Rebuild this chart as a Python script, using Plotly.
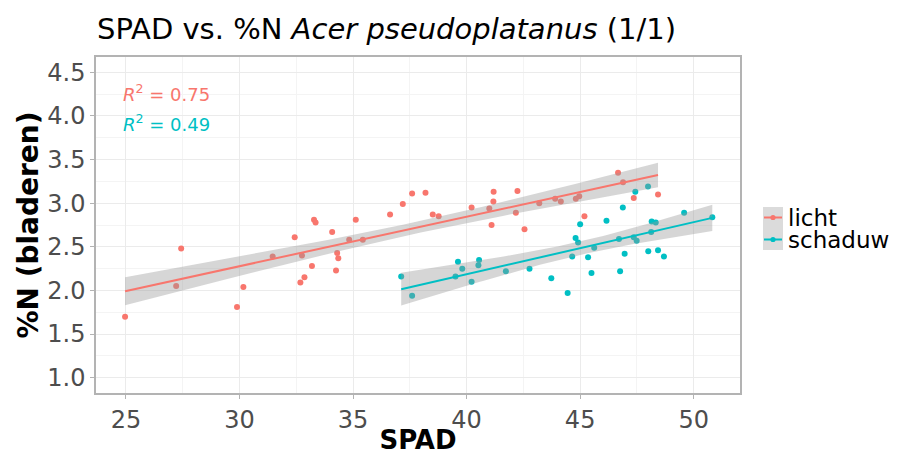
import numpy as np
import plotly.graph_objects as go

# ---- data ----
licht_spad = [24.96, 27.43, 27.21, 29.89, 30.17, 31.46, 32.43, 32.75, 32.68, 32.86,
              33.19, 33.28, 33.35, 34.08, 34.30, 34.35, 34.25, 34.83, 35.43, 35.12,
              36.63, 37.19, 37.60, 38.19, 38.51, 38.77, 40.22, 41.00, 41.19, 41.18,
              41.10, 42.24, 42.17, 42.55, 43.20, 43.90, 44.15, 44.81, 44.96, 45.19,
              46.67, 46.89, 47.36, 48.43]
licht_n = [1.70, 2.48, 2.05, 1.81, 2.04, 2.39, 2.61, 2.40, 2.09, 2.15,
           2.28, 2.81, 2.78, 2.67, 2.43, 2.37, 2.23, 2.58, 2.58, 2.81,
           2.87, 2.99, 3.11, 3.12, 2.87, 2.85, 2.95, 2.94, 3.13, 3.02,
           2.75, 3.14, 2.89, 2.70, 3.00, 3.05, 3.02, 3.05, 3.08, 2.85,
           3.35, 3.24, 3.06, 3.10]

schaduw_spad = [37.12, 37.60, 39.62, 39.81, 39.51, 40.55, 40.52, 40.22, 41.73, 42.77,
                43.73, 44.45, 44.65, 44.80, 44.91, 45.00, 45.35, 45.50, 45.62, 46.16,
                46.71, 46.76, 46.88, 46.96, 47.36, 47.49, 47.43, 47.99, 48.00, 48.13,
                48.15, 48.33, 48.43, 48.69, 49.58, 50.82]
schaduw_n = [2.16, 1.94, 2.33, 2.25, 2.16, 2.35, 2.29, 2.10, 2.22, 2.25,
             2.14, 1.97, 2.39, 2.60, 2.55, 2.76, 2.38, 2.20, 2.49, 2.80,
             2.59, 2.22, 2.95, 2.42, 2.61, 2.57, 3.13, 3.19, 2.45, 2.67,
             2.79, 2.78, 2.46, 2.39, 2.89, 2.84]

groups = ["licht", "schaduw"]
r2_labels = ["0.75", "0.49"]
colors = ["#F8766D", "#00BFC4"]

FONT = "DejaVu Sans"
W, H = 899, 455
ML, MR, MT, MB = 96, 159, 57, 62
PW, PH = W - ML - MR, H - MT - MB


def px_to_paper(px, py):
    return (px - ML) / PW, (H - MB - py) / PH


def lm_fit(x, y, n_grid=80):
    x = np.asarray(x, float)
    y = np.asarray(y, float)
    n = len(x)
    b, a = np.polyfit(x, y, 1)
    resid = y - (a + b * x)
    s = np.sqrt(np.sum(resid ** 2) / (n - 2))
    xbar = x.mean()
    sxx = np.sum((x - xbar) ** 2)
    df = n - 2
    t = 1.96 + 2.4 / df + 3.0 / df ** 2
    xg = np.linspace(x.min(), x.max(), n_grid)
    yg = a + b * xg
    se = s * np.sqrt(1.0 / n + (xg - xbar) ** 2 / sxx)
    return xg, yg, yg - t * se, yg + t * se


fig = go.Figure()
data = [(licht_spad, licht_n), (schaduw_spad, schaduw_n)]

for (xs, ys), name, col in zip(data, groups, colors):
    fig.add_trace(go.Scatter(x=xs, y=ys, mode="markers", name=name,
                             marker=dict(color=col, size=6),
                             showlegend=False))

for (xs, ys), name, col in zip(data, groups, colors):
    xg, yg, lo, hi = lm_fit(xs, ys)
    fig.add_trace(go.Scatter(x=np.concatenate([xg, xg[::-1]]),
                             y=np.concatenate([hi, lo[::-1]]),
                             fill="toself", fillcolor="rgba(153,153,153,0.4)",
                             line=dict(width=0), mode="lines",
                             showlegend=False, hoverinfo="skip"))
    fig.add_trace(go.Scatter(x=xg, y=yg, mode="lines",
                             line=dict(color=col, width=2),
                             showlegend=False, hoverinfo="skip"))

# R^2 labels
for i, (lab, col) in enumerate(zip(r2_labels, colors)):
    fig.add_annotation(x=24.78, y=4.26 - i * 0.345, xref="x", yref="y",
                       text=f"<i>R</i><sup>2</sup> = {lab}", showarrow=False,
                       xanchor="left", yanchor="middle",
                       font=dict(family=FONT, size=18, color=col))

# legend drawn in the right margin (ggplot style keys)
kx0, ky0 = px_to_paper(763, 207)
kx1, _ = px_to_paper(783, 207)
_, ky2 = px_to_paper(783, 250)
shapes = [dict(type="rect", xref="paper", yref="paper", x0=kx0, x1=kx1,
               y0=ky2, y1=ky0, fillcolor="rgba(153,153,153,0.35)",
               line=dict(width=0), layer="above")]
for i, (name, col) in enumerate(zip(groups, colors)):
    row_py = 217.5 + 22 * i
    lx0, ly = px_to_paper(764, row_py)
    lx1, _ = px_to_paper(782, row_py)
    cx, _ = px_to_paper(773, row_py)
    shapes.append(dict(type="line", xref="paper", yref="paper",
                       x0=lx0, x1=lx1, y0=ly, y1=ly,
                       line=dict(color=col, width=2), layer="above"))
    dx = 2.6 / PW
    dy = 2.6 / PH
    shapes.append(dict(type="circle", xref="paper", yref="paper",
                       x0=cx - dx, x1=cx + dx, y0=ly - dy, y1=ly + dy,
                       fillcolor=col, line=dict(width=0), layer="above"))
    tx, ty = px_to_paper(786, row_py)
    fig.add_annotation(x=tx, y=ty, xref="paper", yref="paper", text=name,
                       showarrow=False, xanchor="left", yanchor="middle",
                       font=dict(family=FONT, size=23, color="black"))

fig.update_layout(
    width=W, height=H,
    margin=dict(l=ML, r=MR, t=MT, b=MB, autoexpand=False),
    paper_bgcolor="white", plot_bgcolor="white",
    font=dict(family=FONT, color="#1a1a1a"),
    title=dict(text="SPAD vs. %N <i>Acer pseudoplatanus</i> (1/1)",
               x=97 / W, xref="container", xanchor="left",
               y=1 - 29 / H, yref="container", yanchor="middle",
               font=dict(family=FONT, size=29, color="black")),
    shapes=shapes,
    showlegend=False,
)

fig.update_xaxes(range=[23.68, 52.04], dtick=5, tick0=25, automargin=False,
                 showgrid=True, gridcolor="#ebebeb", gridwidth=1,
                 minor=dict(dtick=2.5, showgrid=True, gridcolor="#f4f4f4", gridwidth=1),
                 showline=True, linecolor="#b3b3b3", linewidth=1.5, mirror=True,
                 ticks="outside", ticklen=4, tickcolor="#b3b3b3",
                 tickfont=dict(family=FONT, size=24, color="#4d4d4d"),
                 title=dict(text="<b>SPAD</b>", standoff=2,
                            font=dict(family=FONT, size=26, color="black")),
                 zeroline=False)
fig.update_yaxes(range=[0.825, 4.675], dtick=0.5, tick0=1, automargin=False,
                 tickformat=".1f",
                 showgrid=True, gridcolor="#ebebeb", gridwidth=1,
                 minor=dict(dtick=0.25, showgrid=True, gridcolor="#f4f4f4", gridwidth=1),
                 showline=True, linecolor="#b3b3b3", linewidth=1.5, mirror=True,
                 ticks="outside", ticklen=4, tickcolor="#b3b3b3",
                 tickfont=dict(family=FONT, size=24, color="#4d4d4d"),
                 title=dict(text="<b>%N (bladeren)</b>", standoff=0,
                            font=dict(family=FONT, size=28, color="black")),
                 zeroline=False)

fig.write_html("out.html",
               config={"displayModeBar": False},
               post_script="document.body.style.margin='0';"
                           "document.body.style.overflow='hidden';")
